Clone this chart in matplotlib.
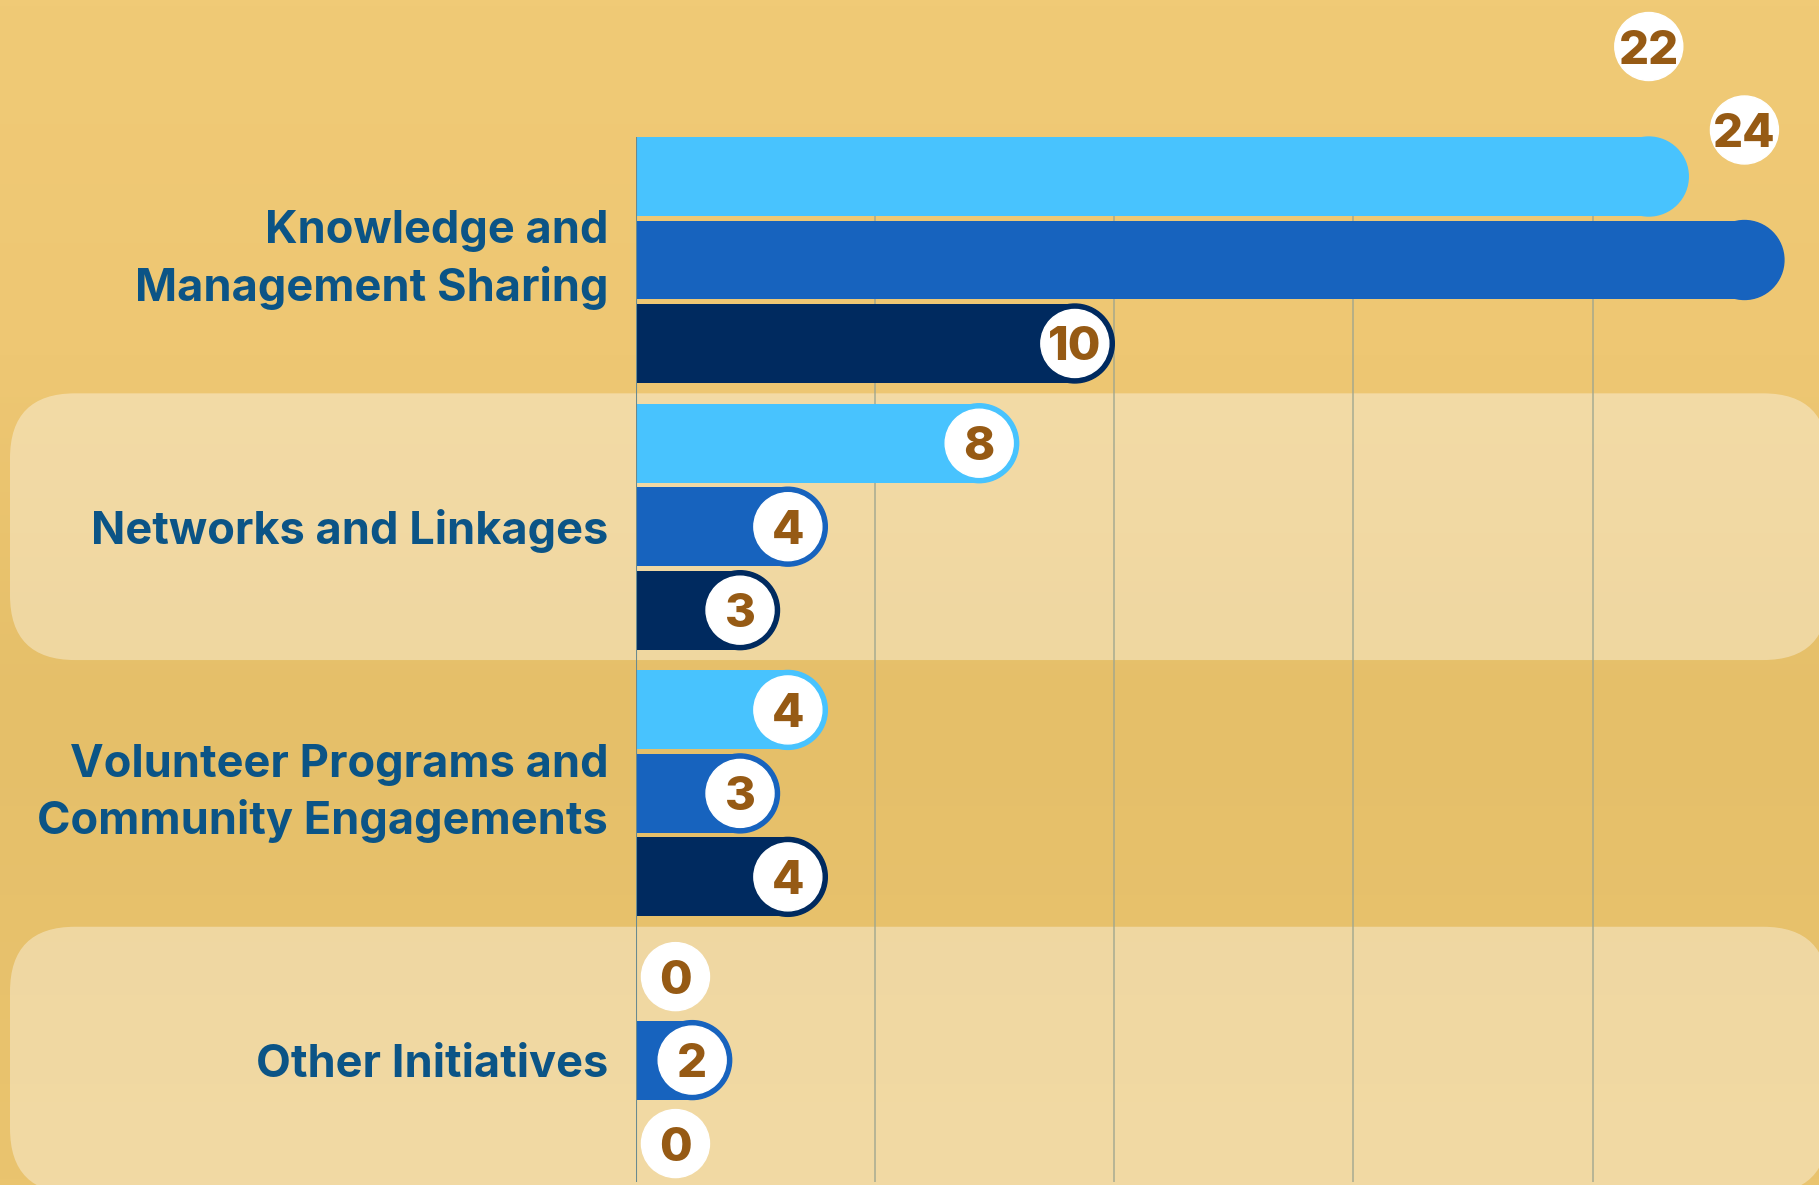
import numpy as np
import matplotlib
matplotlib.use("Agg")
import matplotlib.pyplot as plt
from matplotlib.patches import FancyBboxPatch, Ellipse
from matplotlib.colors import LinearSegmentedColormap

# data
categories = ["Knowledge and\nManagement Sharing", "Networks and Linkages",
              "Volunteer Programs and\nCommunity Engagements", "Other Initiatives"]
series_a = [22, 8, 4, 0]   # light blue
series_b = [24, 4, 3, 2]   # mid blue
series_c = [10, 3, 4, 0]   # dark navy
grid_ticks = [0, 5, 10, 15, 20]

colors = ["#48C3FE", "#1763BE", "#002A5F"]
label_color = "#0B5486"
num_color = "#965A14"

W, H = 1819, 1185
fig = plt.figure(figsize=(W / 100, H / 100), dpi=100)

# background
bg = fig.add_axes([0, 0, 1, 1])
bg.set_axis_off()
cmap = LinearSegmentedColormap.from_list(
    "bg", [(0, "#F0CA76"), (0.3, "#EEC773"), (0.6, "#E5BF69"), (1, "#EAC46F")])
bg.imshow(np.linspace(0, 1, 200).reshape(-1, 1), aspect="auto", cmap=cmap,
          extent=[0, 1, 0, 1], origin="upper")
bg.set_xlim(0, 1)
bg.set_ylim(0, 1)

# main axes: x=0 at 636px, 47.83 px per unit; groups 266.7 px apart
x0px, ux, uy = 636, 47.83, 266.7
ax = fig.add_axes([x0px / W, 0, 1 - x0px / W, 1])
ax.patch.set_alpha(0)
ax.set_xlim(0, (W - x0px) / ux)
ax.set_ylim((H - 260) / uy, -260 / uy)
aspect = ux / uy

offsets = [-0.313, 0.0, 0.313]
bar_h = 0.296
rx = (bar_h / 2) * uy / ux       # cap radius in x units
cr_x, cr_y = 34 / ux, 34 / uy    # label circle radii
ycenters = np.arange(len(categories))

# alternate bands
for i in ycenters:
    if i % 2 == 1:
        band = FancyBboxPatch((-626 / ux, i - 0.5), (1828 - 10) / ux, 1.0,
                              boxstyle="round,pad=0,rounding_size=%f" % (65 / ux),
                              mutation_aspect=aspect, transform=ax.transData,
                              facecolor="white", alpha=0.37, edgecolor="none",
                              clip_on=False, zorder=1)
        ax.add_patch(band)

top = ycenters[0] + offsets[0] - bar_h / 2
bottom = (1182 - 260) / uy
ax.vlines(grid_ticks[1:], top, bottom, color="#9DA58F", lw=1.3, alpha=0.75, zorder=2)
ax.vlines([0], top, bottom, color="#6A8A8F", lw=1.5, zorder=5)

for k, series in enumerate([series_a, series_b, series_c]):
    ys = ycenters + offsets[k]
    vals = np.array(series, dtype=float)
    widths = np.where(vals > 0, np.maximum(vals - rx, 0), 0)
    ax.barh(ys, widths, height=bar_h, left=0, color=colors[k], zorder=3)
    for v, y in zip(vals, ys):
        if v > 0:
            ax.add_patch(Ellipse((v - rx, y), 2 * rx, bar_h, color=colors[k], zorder=3))
        cx = max(v, 2 * rx) - rx
        cy = y - 0.4875 if v > 20 else y
        ax.add_patch(Ellipse((cx, cy), 2 * cr_x, 2 * cr_y, color="white", zorder=4, clip_on=False))
        ax.text(cx, cy, "%d" % v, ha="center", va="center_baseline", fontsize=34,
                fontweight="heavy", family="Inter", color=num_color, zorder=6)

ax.set_yticks(ycenters)
ax.set_yticklabels(categories, fontsize=32.5, fontweight="bold", family="Inter",
                   color=label_color, linespacing=1.39)
for lab in ax.get_yticklabels():
    lab.set_multialignment("right")
    if "\n" in lab.get_text():
        lab.set_va("center")
ax.tick_params(axis="y", length=0, pad=20)
ax.set_xticks([])
for s in ax.spines.values():
    s.set_visible(False)

fig.savefig("out.png", dpi=100)
